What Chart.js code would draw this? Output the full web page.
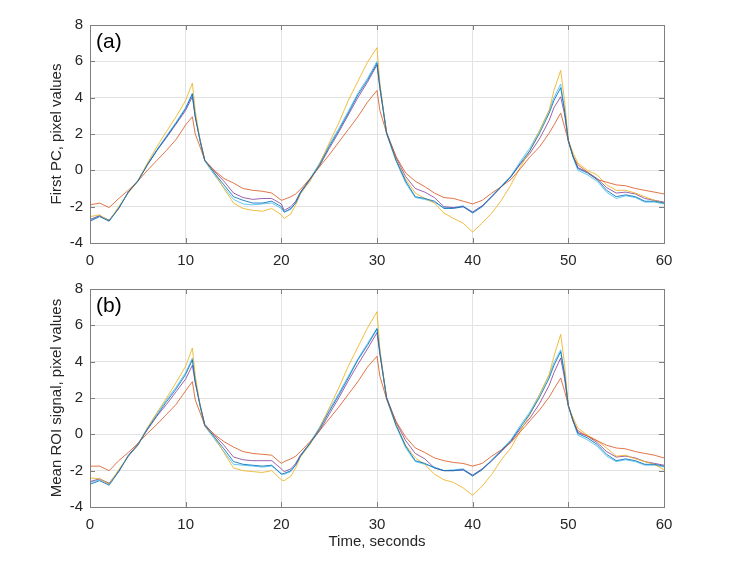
<!DOCTYPE html>
<html>
<head>
<meta charset="utf-8">
<script src="https://cdn.jsdelivr.net/npm/chart.js@4.4.0/dist/chart.umd.min.js"></script>
<style>
  html, body { margin: 0; padding: 0; background: #fff; }
  #wrap { position: relative; width: 752px; height: 569px; }
  canvas { position: absolute; left: 0; }
  #chartA { top: 0; }
  #chartB { top: 264px; }
</style>
</head>
<body>
<div id="wrap">
  <canvas id="chartA" width="752" height="280"></canvas>
  <canvas id="chartB" width="752" height="305"></canvas>
</div>
<script>
// --- Data (time in seconds, values in pixel units) ---
const times = [0,1,2,3,4,5,6,7,8,9,10, 10.7,11,11.5, 12,13,14,15,16,17,18,19,20, 20.3,21,21.5,
  22,23,24,25,26,27,28,29,30, 30.3, 31,32,33,34,35,36,37,38,39,40,41,42,43,44,45,46,47,48,
  48.5,49.2,49.6, 50,50.5, 51,52,53,54,55,56,57,58,59,60];

const xTicks = [0, 10, 20, 30, 40, 50, 60];
const yTicks = [-4, -2, 0, 2, 4, 6, 8];

// panel (a): first PC
const blueA = [-2.8,-2.55,-2.8,-2.1,-1.2,-0.6,0.3,1.1,1.85,2.6,3.4, 4.2,2.95,1.65,
  0.55,-0.15,-0.8,-1.45,-1.65,-1.8,-1.8,-1.7,-2.0, -2.3,-2.1,-1.8,
  -1.25,-0.5,0.3,1.3,2.2,3.15,4.15,4.95,5.9, 4.6,
  2.05,0.55,-0.6,-1.45,-1.55,-1.7,-2.1,-2.1,-2.0,-2.35,-2.0,-1.45,-0.9,-0.35,0.4,1.1,2.05,3.15,
  3.85,4.55,3.3, 1.65,0.75, 0.1,-0.15,-0.5,-1.1,-1.45,-1.35,-1.45,-1.7,-1.7,-1.8];
const redA = [-1.9,-1.8,-2.05,-1.55,-1.1,-0.6,0.0,0.55,1.1,1.7,2.5, 2.95,2.0,1.3,
  0.55,0.0,-0.45,-0.7,-1.0,-1.1,-1.15,-1.25,-1.65, -1.6,-1.45,-1.3,
  -1.05,-0.45,0.2,0.85,1.55,2.25,2.95,3.75,4.4, 3.3,
  2.05,0.75,-0.15,-0.6,-0.9,-1.25,-1.5,-1.55,-1.7,-1.85,-1.65,-1.25,-0.9,-0.5,0.1,0.75,1.3,2.05,
  2.5,3.15,2.4, 1.65,0.75, 0.3,-0.1,-0.5,-0.65,-0.8,-0.85,-1.0,-1.1,-1.2,-1.3];
const yellowA = [-2.55,-2.45,-2.8,-2.0,-1.25,-0.6,0.4,1.3,2.15,2.95,3.85, 4.8,3.3,1.65,
  0.55,-0.15,-1.0,-1.8,-2.1,-2.2,-2.25,-2.1,-2.45, -2.65,-2.4,-1.9,
  -1.3,-0.6,0.35,1.5,2.6,3.85,4.9,5.95,6.75, 4.8,
  2.05,0.55,-0.5,-1.25,-1.55,-1.8,-2.35,-2.65,-2.9,-3.4,-2.9,-2.35,-1.65,-0.8,0.2,1.1,2.2,3.3,
  4.4,5.5,3.85, 1.65,0.95, 0.4,0.0,-0.25,-0.8,-1.1,-1.1,-1.25,-1.45,-1.65,-1.8];
const purpleA = [-2.7,-2.5,-2.75,-2.1,-1.2,-0.6,0.3,1.1,1.8,2.55,3.3, 4.05,2.95,1.7,
  0.55,-0.05,-0.6,-1.25,-1.5,-1.6,-1.55,-1.55,-1.85, -2.2,-2.0,-1.7,
  -1.2,-0.5,0.25,1.2,2.1,3.05,4.0,4.85,5.8, 4.5,
  2.1,0.7,-0.35,-1.0,-1.2,-1.5,-2.0,-2.05,-2.0,-2.3,-1.95,-1.45,-0.9,-0.35,0.35,0.95,1.75,2.75,
  3.45,4.05,3.1, 1.6,0.8, 0.15,-0.1,-0.45,-0.95,-1.25,-1.2,-1.3,-1.55,-1.65,-1.75];
const cyanA = [-2.75,-2.5,-2.75,-2.05,-1.2,-0.55,0.35,1.15,1.9,2.65,3.45, 4.25,3.0,1.6,
  0.5,-0.25,-0.95,-1.6,-1.85,-1.9,-1.85,-1.8,-2.1, -2.3,-2.15,-1.75,
  -1.2,-0.45,0.4,1.4,2.3,3.25,4.25,5.05,6.0, 4.7,
  2.0,0.5,-0.7,-1.5,-1.6,-1.75,-2.05,-2.05,-1.95,-2.3,-1.95,-1.4,-0.85,-0.3,0.5,1.25,2.2,3.3,
  4.0,4.75,3.4, 1.6,0.7, 0.0,-0.25,-0.6,-1.2,-1.55,-1.4,-1.5,-1.75,-1.75,-1.85];

// panel (b): mean ROI signal
const blueB = [-2.75,-2.55,-2.8,-2.05,-1.2,-0.6,0.3,1.05,1.8,2.5,3.3, 4.1,2.9,1.6,
  0.5,-0.15,-0.8,-1.5,-1.65,-1.7,-1.75,-1.7,-2.2, -2.15,-2.0,-1.7,
  -1.2,-0.5,0.3,1.25,2.15,3.1,4.1,4.9,5.8, 4.5,
  2.0,0.5,-0.65,-1.45,-1.6,-1.85,-2.0,-2.0,-1.95,-2.3,-1.95,-1.45,-0.9,-0.35,0.4,1.15,2.05,3.1,
  3.8,4.55,3.3, 1.6,0.75, 0.05,-0.2,-0.55,-1.1,-1.45,-1.35,-1.45,-1.65,-1.65,-1.75];
const redB = [-1.75,-1.75,-2.0,-1.45,-1.0,-0.5,0.05,0.55,1.1,1.65,2.4, 2.9,1.9,1.2,
  0.5,0.0,-0.4,-0.7,-0.95,-1.05,-1.1,-1.15,-1.6, -1.5,-1.35,-1.2,
  -0.95,-0.4,0.2,0.85,1.5,2.2,2.9,3.7,4.3, 3.2,
  1.95,0.7,-0.15,-0.75,-1.0,-1.3,-1.45,-1.55,-1.6,-1.75,-1.6,-1.2,-0.85,-0.45,0.15,0.75,1.35,2.05,
  2.5,3.1,2.4, 1.6,0.7, 0.2,-0.1,-0.35,-0.6,-0.75,-0.8,-0.95,-1.05,-1.15,-1.3];
const yellowB = [-2.4,-2.45,-2.75,-1.95,-1.2,-0.6,0.35,1.2,2.0,2.85,3.75, 4.75,3.25,1.6,
  0.45,-0.15,-1.0,-1.85,-2.0,-2.05,-2.1,-2.0,-2.5, -2.55,-2.3,-1.85,
  -1.25,-0.55,0.35,1.45,2.55,3.75,4.8,5.85,6.75, 4.7,
  1.95,0.5,-0.6,-1.3,-1.65,-2.2,-2.5,-2.65,-2.95,-3.35,-2.85,-2.2,-1.4,-0.75,0.2,1.1,2.2,3.3,
  4.3,5.5,3.9, 1.55,0.9, 0.35,-0.05,-0.35,-0.75,-1.2,-1.15,-1.35,-1.5,-1.65,-1.95];
const purpleB = [-2.6,-2.45,-2.7,-2.05,-1.15,-0.55,0.25,1.0,1.65,2.35,3.05, 3.8,2.85,1.65,
  0.55,-0.05,-0.6,-1.25,-1.4,-1.45,-1.45,-1.45,-1.9, -2.05,-1.9,-1.6,
  -1.15,-0.5,0.2,1.1,2.0,2.95,3.85,4.7,5.6, 4.4,
  2.05,0.65,-0.35,-1.05,-1.35,-1.85,-2.0,-2.0,-1.95,-2.25,-1.9,-1.45,-0.95,-0.4,0.3,0.9,1.7,2.7,
  3.4,4.2,3.1, 1.55,0.8, 0.1,-0.1,-0.45,-0.95,-1.25,-1.2,-1.3,-1.5,-1.6,-1.7];
const cyanB = [-2.65,-2.5,-2.7,-2.0,-1.2,-0.55,0.35,1.15,1.9,2.6,3.4, 4.2,3.0,1.55,
  0.45,-0.25,-0.95,-1.65,-1.7,-1.75,-1.8,-1.75,-2.15, -2.2,-2.05,-1.65,
  -1.15,-0.45,0.4,1.35,2.25,3.2,4.15,5.0,5.85, 4.6,
  1.95,0.45,-0.75,-1.5,-1.65,-1.8,-2.0,-1.95,-1.9,-2.25,-1.9,-1.4,-0.85,-0.3,0.5,1.25,2.2,3.25,
  3.95,4.65,3.4, 1.55,0.7, -0.05,-0.3,-0.65,-1.2,-1.5,-1.4,-1.5,-1.7,-1.7,-1.8];

const FONT = '"Liberation Sans", Arial, sans-serif';
const TEXT = '#262626';

// MATLAB-ish box, inward ticks on all four sides, and the panel letter
const boxPlugin = {
    id: 'matlabBox',
    afterDraw: (chart, args, opts) => {
        const { ctx, chartArea: a, scales } = chart;
        ctx.save();
        ctx.strokeStyle = '#7f7f7f';
        ctx.lineWidth = 1;
        ctx.beginPath();
        xTicks.forEach(v => {
            const px = Math.round(scales.x.getPixelForValue(v)) + 0.5;
            ctx.moveTo(px, a.bottom); ctx.lineTo(px, a.bottom - 5);
            ctx.moveTo(px, a.top); ctx.lineTo(px, a.top + 5);
        });
        yTicks.forEach(v => {
            const py = Math.round(scales.y.getPixelForValue(v)) + 0.5;
            ctx.moveTo(a.left, py); ctx.lineTo(a.left + 5, py);
            ctx.moveTo(a.right, py); ctx.lineTo(a.right - 5, py);
        });
        ctx.stroke();
        ctx.strokeRect(Math.round(a.left) + 0.5, Math.round(a.top) + 0.5,
            Math.round(a.right - a.left), Math.round(a.bottom - a.top));

        ctx.fillStyle = '#000';
        ctx.font = '21px ' + FONT;
        ctx.textBaseline = 'middle';
        ctx.fillText(opts.letter, a.left + 6, a.top + 17);
        ctx.restore();
    }
};

function series(vals, color) {
    return {
        data: times.map((t, i) => ({ x: t, y: vals[i] })),
        borderColor: color,
        borderWidth: 1,
        pointRadius: 0,
        tension: 0,
        fill: false
    };
}

function makeChart(id, letter, yTitle, withXTitle, sets) {
    const xHeight = withXTitle ? 62 : 37;
    return new Chart(document.getElementById(id), {
        type: 'line',
        data: {
            datasets: [
                series(sets[0], 'rgba(0,114,189,0.85)'),
                series(sets[1], 'rgba(217,83,25,0.8)'),
                series(sets[2], 'rgba(237,177,32,0.85)'),
                series(sets[3], 'rgba(126,47,142,0.75)'),
                series(sets[4], 'rgba(77,190,238,0.85)')
            ]
        },
        options: {
            responsive: false,
            animation: false,
            layout: { padding: { left: 0, right: 88, top: 25, bottom: 0 } },
            plugins: {
                legend: { display: false },
                tooltip: { enabled: false },
                matlabBox: { letter: letter }
            },
            scales: {
                x: {
                    type: 'linear',
                    min: 0,
                    max: 60,
                    afterBuildTicks: s => { s.ticks = xTicks.map(v => ({ value: v })); },
                    afterFit: s => { s.height = xHeight; },
                    grid: { color: '#e3e3e3', drawTicks: false },
                    border: { display: false },
                    ticks: { color: TEXT, font: { family: FONT, size: 15 }, padding: 9, maxRotation: 0 },
                    title: {
                        display: withXTitle,
                        text: 'Time, seconds',
                        color: TEXT,
                        font: { family: FONT, size: 15 },
                        padding: { top: 0, bottom: 18 }
                    }
                },
                y: {
                    type: 'linear',
                    min: -4,
                    max: 8,
                    afterBuildTicks: s => { s.ticks = yTicks.map(v => ({ value: v })); },
                    afterFit: s => { s.width = 90; },
                    grid: { color: '#e3e3e3', drawTicks: false },
                    border: { display: false },
                    ticks: { color: TEXT, font: { family: FONT, size: 15 }, padding: 7 },
                    title: {
                        display: true,
                        text: yTitle,
                        color: TEXT,
                        font: { family: FONT, size: 15 },
                        padding: { top: 48, bottom: 0 }
                    }
                }
            }
        },
        plugins: [boxPlugin]
    });
}

makeChart('chartA', '(a)', 'First PC, pixel values', false,
    [blueA, redA, yellowA, purpleA, cyanA]);
makeChart('chartB', '(b)', 'Mean ROI signal, pixel values', true,
    [blueB, redB, yellowB, purpleB, cyanB]);
</script>
</body>
</html>
